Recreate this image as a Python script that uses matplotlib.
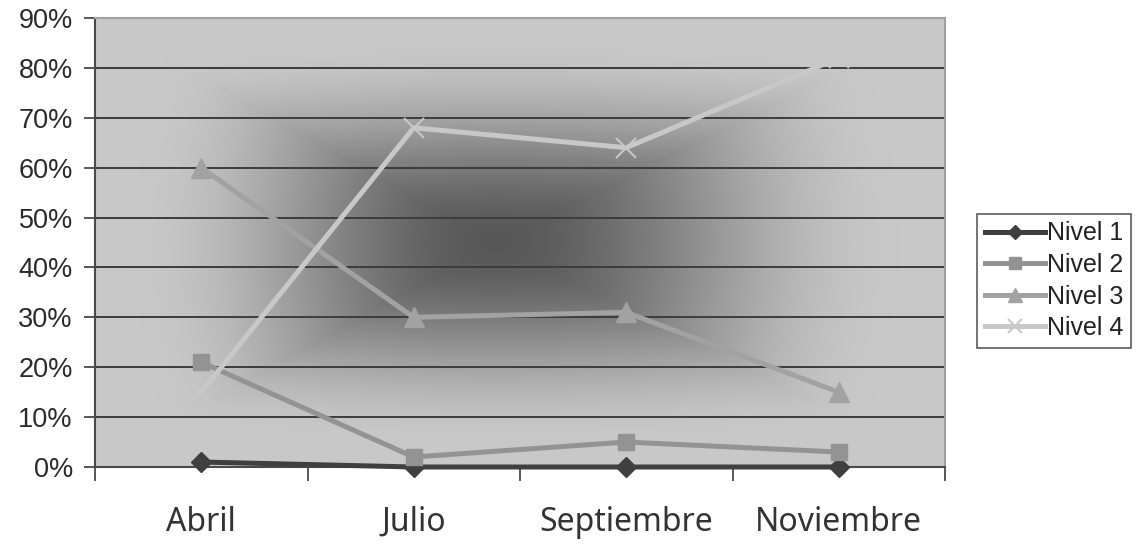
import numpy as np
import matplotlib
matplotlib.use("Agg")
import matplotlib.pyplot as plt
from matplotlib.lines import Line2D

# Data
months = ["Abril", "Julio", "Septiembre", "Noviembre"]
nivel_1 = [1, 0, 0, 0]
nivel_2 = [21, 2, 5, 3]
nivel_3 = [60, 30, 31, 15]
nivel_4 = [15, 68, 64, 82]
series_names = ["Nivel 1", "Nivel 2", "Nivel 3", "Nivel 4"]
y_ticks = [0, 10, 20, 30, 40, 50, 60, 70, 80, 90]

W, H = 1140, 545
fig = plt.figure(figsize=(W / 100, H / 100), dpi=100)
fig.patch.set_facecolor("white")

left, right, top, bottom = 95, 945, 18, 467
ax = fig.add_axes([left / W, 1 - bottom / H, (right - left) / W, (bottom - top) / H])

# Rectangular "from centre" gradient fill of the plot area
pw, ph = right - left, bottom - top
xs = np.arange(pw) + 0.5
ys = np.arange(ph) + 0.5
X, Y = np.meshgrid(xs, ys)
cx, cy = 0.47 * pw, 0.5 * ph
u = np.where(X < cx, (X - cx) / cx, (X - cx) / (pw - cx))
v = (Y - cy) / (ph / 2)
d_cheb = np.maximum(np.abs(u), np.abs(v))
d_round = np.sqrt(u ** 2 + v ** 2) / np.sqrt(2)
d = 0.7 * d_cheb + 0.3 * d_round
dark, light = 88, 200
t = np.clip(d / 0.82, 0, 1)
s = t * t * (3 - 2 * t)
val = dark + (light - dark) * s
img = np.dstack([val, val, val]) / 255.0
ax.imshow(img, extent=(-0.5, 3.5, 0, 90), aspect="auto", zorder=0,
          interpolation="bilinear", origin="upper")

ax.set_xlim(-0.5, 3.5)
ax.set_ylim(0, 90)

# Horizontal gridlines
for yv in y_ticks[1:-1]:
    ax.axhline(yv, color="#3c3c3c", lw=1.4, zorder=1)

x = np.arange(len(months))
styles = [
    dict(color="#3f3f3f", marker="D", ms=10, mfc="#3f3f3f", mec="#3f3f3f"),
    dict(color="#939393", marker="s", ms=12, mfc="#939393", mec="#939393"),
    dict(color="#a2a2a2", marker="^", ms=15, mfc="#a2a2a2", mec="#a2a2a2"),
    dict(color="#c8c8c8", marker="x", ms=15, mfc="#c8c8c8", mec="#c8c8c8", mew=1.5),
]
data = [nivel_1, nivel_2, nivel_3, nivel_4]
for vals, st, name in zip(data, styles, series_names):
    ax.plot(x, vals, lw=3.6, label=name, zorder=3, clip_on=False, **st)

# Axes frame
for sp in ["top", "right"]:
    ax.spines[sp].set_color("#a0a0a0")
    ax.spines[sp].set_linewidth(1.5)
for sp in ["left", "bottom"]:
    ax.spines[sp].set_color("#4a4a4a")
    ax.spines[sp].set_linewidth(1.5)

ax.set_yticks(y_ticks)
ax.set_yticklabels([f"{tk}%" for tk in y_ticks], fontfamily="Liberation Sans",
                   fontsize=19.5, color="#2a2a2a")
ax.tick_params(axis="y", direction="out", length=8, width=1.3, color="#4a4a4a", pad=8)

ax.set_xticks(x)
ax.set_xticklabels(months, fontfamily="Noto Sans", fontsize=23, color="#333333")
ax.tick_params(axis="x", which="major", length=0, pad=28)
ax.set_xticks([-0.5, 0.5, 1.5, 2.5, 3.5], minor=True)
ax.tick_params(axis="x", which="minor", direction="out", length=10, width=1.3,
               color="#4a4a4a")

# Legend
handles = [Line2D([], [], lw=3.6, **st) for st in styles]
leg = fig.legend(handles, series_names, loc="upper left",
                 bbox_to_anchor=(977 / W, 1 - 214 / H),
                 prop={"family": "Liberation Sans", "size": 18},
                 frameon=True, fancybox=False, handlelength=2.4,
                 handletextpad=0.1, borderpad=0.3, labelspacing=0.3,
                 borderaxespad=0, markerscale=0.7)
leg.get_frame().set_edgecolor("#333333")
leg.get_frame().set_linewidth(1.2)
for tx in leg.get_texts():
    tx.set_color("#222222")

fig.savefig("out.png", dpi=100, facecolor="white")
